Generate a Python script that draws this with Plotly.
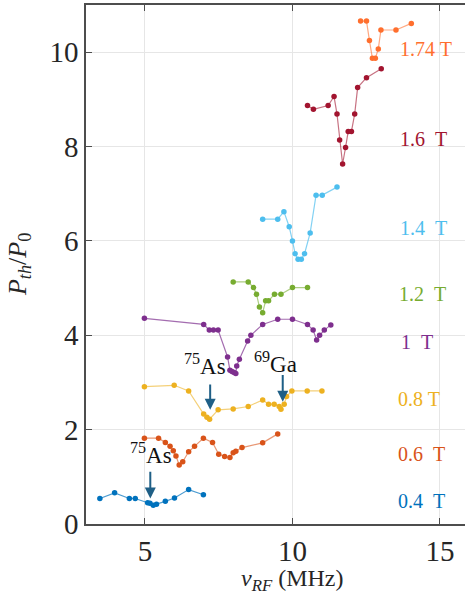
import plotly.graph_objects as go

# ---- data ----
x_04 = [3.47, 3.97, 4.47, 4.67, 5.09, 5.17, 5.28, 5.39, 5.69, 6.00, 6.48, 6.98]
y_04 = [0.54, 0.66, 0.54, 0.54, 0.45, 0.44, 0.40, 0.42, 0.48, 0.55, 0.73, 0.62]

x_06 = [4.98, 5.46, 5.69, 5.85, 5.96, 6.05, 6.16, 6.28, 6.48, 6.68, 6.98, 7.29,
        7.50, 7.70, 7.88, 7.99, 8.08, 8.29, 8.99, 9.50]
y_06 = [1.82, 1.82, 1.73, 1.65, 1.55, 1.44, 1.25, 1.32, 1.53, 1.65, 1.82, 1.73,
        1.48, 1.43, 1.41, 1.51, 1.54, 1.62, 1.72, 1.91]

x_08 = [4.98, 5.99, 6.48, 6.99, 7.10, 7.19, 7.48, 7.99, 8.50, 8.99, 9.19, 9.38,
        9.55, 9.61, 9.72, 9.80, 9.98, 10.50, 11.00]
y_08 = [2.91, 2.94, 2.82, 2.33, 2.26, 2.22, 2.42, 2.44, 2.49, 2.63, 2.54, 2.54,
        2.49, 2.43, 2.54, 2.70, 2.82, 2.82, 2.82]

x_10 = [4.98, 6.99, 7.18, 7.32, 7.48, 7.80, 7.88, 7.95, 8.02, 8.08, 8.11, 8.20,
        8.48, 8.59, 8.99, 9.50, 10.00, 10.51, 10.70, 10.82, 10.92, 11.08, 11.30]
y_10 = [4.36, 4.23, 4.11, 4.11, 4.11, 3.54, 3.26, 3.23, 3.21, 3.19, 3.35, 3.49,
        3.88, 4.00, 4.23, 4.34, 4.34, 4.23, 4.11, 3.90, 4.00, 4.11, 4.22]

x_12 = [7.99, 8.50, 8.68, 8.78, 8.88, 8.99, 9.09, 9.19, 9.39, 9.61, 10.00, 10.51]
y_12 = [5.13, 5.13, 5.01, 4.87, 4.60, 4.48, 4.73, 4.73, 4.87, 4.87, 5.01, 5.01]

x_14 = [8.99, 9.50, 9.71, 9.89, 10.00, 10.09, 10.19, 10.30, 10.41, 10.60, 10.80,
        11.01, 11.51]
y_14 = [6.46, 6.46, 6.62, 6.30, 6.00, 5.73, 5.61, 5.61, 5.73, 6.17, 6.97,
        6.97, 7.14]

x_16 = [10.51, 10.71, 11.21, 11.41, 11.51, 11.60, 11.70, 11.80, 11.89, 12.00,
        12.11, 12.21, 12.51, 13.01]
y_16 = [8.87, 8.79, 8.87, 9.06, 8.69, 8.14, 7.63, 7.98, 8.32, 8.32,
        8.69, 9.25, 9.46, 9.65]

x_174 = [12.31, 12.51, 12.61, 12.71, 12.81, 12.91, 13.00, 13.51, 14.03]
y_174 = [10.66, 10.66, 10.25, 9.87, 9.87, 10.07, 10.47, 10.47, 10.61]

series_x = [x_04, x_06, x_08, x_10, x_12, x_14, x_16, x_174]
series_y = [y_04, y_06, y_08, y_10, y_12, y_14, y_16, y_174]
series_names = ["0.4\u00a0\u00a0T", "0.6\u00a0\u00a0T", "0.8 T", "1\u00a0\u00a0T",
                "1.2\u00a0\u00a0T", "1.4\u00a0\u00a0T", "1.6\u00a0\u00a0T", "1.74 T"]
colors = ["#0072BD", "#D95319", "#EDB120", "#7E2F8E", "#77AC30", "#4DBEEE",
          "#A2142F", "#FF6F2E"]
line_colors = ["rgba(0,114,189,0.7)", "rgba(217,83,25,0.6)", "rgba(237,177,32,0.6)",
               "rgba(126,47,142,0.7)", "rgba(119,172,48,0.6)", "rgba(77,190,238,0.7)",
               "rgba(162,20,47,0.6)", "rgba(255,111,46,0.6)"]
label_x = [13.52, 13.52, 13.52, 13.6, 13.55, 13.59, 13.59, 13.59]
label_y = [0.48, 1.49, 2.65, 3.86, 4.88, 6.28, 8.16, 10.06]

# isotope markers: (text, text x, text y, arrow x, arrow tail y, arrow head y)
iso_text = ["<sup>75</sup>As", "<sup>75</sup>As", "<sup>69</sup>Ga"]
iso_tx = [5.21, 7.03, 9.42]
iso_ty = [1.50, 3.39, 3.43]
arr_x = [5.18, 7.21, 9.67]
arr_tail = [1.14, 2.99, 3.19]
arr_head = [0.54, 2.42, 2.59]

FONT = "Liberation Serif"
fig = go.Figure()
for xs, ys, c, lc in zip(series_x, series_y, colors, line_colors):
    fig.add_trace(go.Scatter(x=xs, y=ys, mode="lines+markers",
                             line=dict(color=lc, width=1.2),
                             marker=dict(color=c, size=5.5),
                             showlegend=False))

annotations = []
for t, lx, ly, c in zip(series_names, label_x, label_y, colors):
    annotations.append(dict(x=lx, y=ly, xref="x", yref="y", text=t, showarrow=False,
                            xanchor="left", yanchor="middle",
                            font=dict(family=FONT, size=20, color=c)))
for t, tx, ty in zip(iso_text, iso_tx, iso_ty):
    annotations.append(dict(x=tx, y=ty, xref="x", yref="y", text=t, showarrow=False,
                            xanchor="center", yanchor="middle",
                            font=dict(family=FONT, size=23, color="#111111")))
for ax_, yt, yh in zip(arr_x, arr_tail, arr_head):
    annotations.append(dict(x=ax_, y=yh, ax=ax_, ay=yt, xref="x", yref="y",
                            axref="x", ayref="y", text="", showarrow=True,
                            arrowhead=2, arrowsize=1.1, arrowwidth=2,
                            arrowcolor="#1F5F86"))
annotations.append(dict(x=10, y=-0.107, xref="x", yref="paper",
                        text="<i>ν</i><sub><i>RF</i></sub> (MHz)", showarrow=False,
                        xanchor="center", yanchor="middle",
                        font=dict(family=FONT, size=24, color="#262626")))
annotations.append(dict(x=-0.178, y=0.5, xref="paper", yref="paper",
                        text="<i>P<sub>th</sub></i>/<i>P</i><sub>0</sub>",
                        showarrow=False, textangle=-90,
                        xanchor="center", yanchor="middle",
                        font=dict(family=FONT, size=26, color="#262626")))

fig.update_layout(
    width=465, height=597,
    margin=dict(l=86, r=0, t=5, b=73),
    plot_bgcolor="white", paper_bgcolor="white",
    annotations=annotations,
    xaxis=dict(range=[3, 15.85], tickvals=[5, 10, 15], ticktext=["5", "10", "15"],
               showgrid=True, gridcolor="#E6E6E6", gridwidth=1,
               showline=True, linecolor="#4D4D4D", linewidth=1.5, mirror="ticks",
               ticks="inside", ticklen=6, tickwidth=1.2, tickcolor="#4D4D4D",
               zeroline=False,
               tickfont=dict(family=FONT, size=29, color="#262626")),
    yaxis=dict(range=[0, 11], tickvals=[0, 2, 4, 6, 8, 10],
               showgrid=True, gridcolor="#E6E6E6", gridwidth=1,
               showline=True, linecolor="#4D4D4D", linewidth=1.5,
               ticks="inside", ticklen=6, tickwidth=1.2, tickcolor="#4D4D4D",
               zeroline=False,
               tickfont=dict(family=FONT, size=29, color="#262626")),
)
fig.write_html("out.html", config={"displayModeBar": False},
               post_script="document.body.style.margin='0';document.body.style.overflow='hidden';")
